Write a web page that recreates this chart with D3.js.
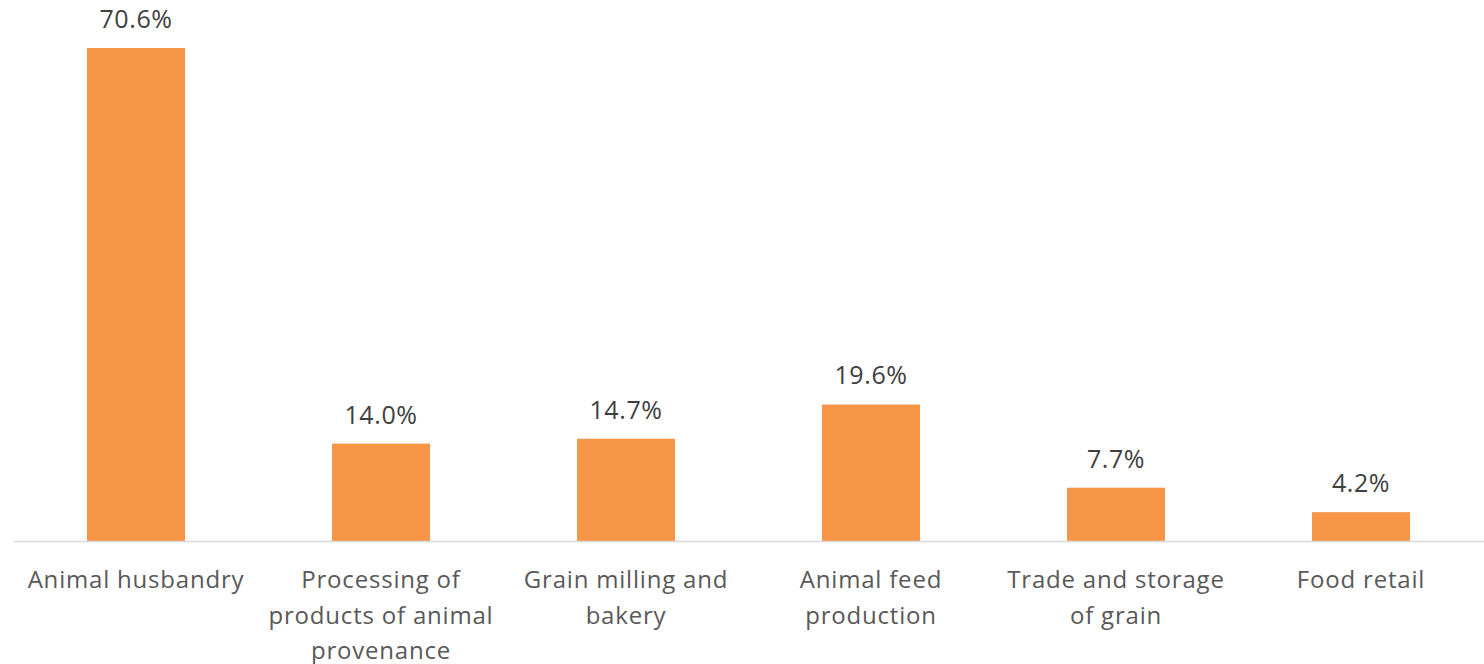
<!DOCTYPE html>
<html><head><meta charset="utf-8">
<script src="https://cdn.jsdelivr.net/npm/d3@7"></script>
<style>body{margin:0;background:#fff}svg{display:block}text{font-family:"Open Sans",sans-serif}</style>
</head><body><svg id="c" width="1484" height="664"></svg>
<script>
const categories = ["Animal husbandry","Processing of products of animal provenance","Grain milling and bakery","Animal feed production","Trade and storage of grain","Food retail"];
const categoryLines = [["Animal husbandry"],["Processing of","products of animal","provenance"],["Grain milling and","bakery"],["Animal feed","production"],["Trade and storage","of grain"],["Food retail"]];
const values = [70.6,14.0,14.7,19.6,7.7,4.2];
const valueLabels = ["70.6%","14.0%","14.7%","19.6%","7.7%","4.2%"];

const svg = d3.select("#c");
const x = d3.scaleBand().domain(categories).range([13.5,1483.5]).paddingInner(0.6).paddingOuter(0.3);
const y = d3.scaleLinear().domain([0,70.6]).range([541.5,48]);

svg.append("g").selectAll("rect").data(values).join("rect")
  .attr("x",(d,i)=>x(categories[i])).attr("width",x.bandwidth())
  .attr("y",d=>y(d)).attr("height",d=>y(0)-y(d)).attr("fill","#F79646");

svg.append("line").attr("x1",13.5).attr("x2",1484).attr("y1",541.5).attr("y2",541.5)
  .attr("stroke","#D9D9D9").attr("stroke-width",1.5);

svg.append("g").selectAll("text").data(values).join("text")
  .attr("x",(d,i)=>x(categories[i])+x.bandwidth()/2).attr("y",d=>y(d)-20)
  .attr("text-anchor","middle").attr("font-size",25).attr("letter-spacing",0.6).attr("fill","#404040")
  .text((d,i)=>valueLabels[i]);

const lab = svg.append("g").selectAll("text").data(categories).join("text")
  .attr("text-anchor","middle").attr("font-size",24).attr("letter-spacing",0.8).attr("fill","#595959")
  .attr("transform",d=>`translate(${x(d)+x.bandwidth()/2},588)`);
lab.each(function(d,i){
  d3.select(this).selectAll("tspan").data(categoryLines[i]).join("tspan")
    .attr("x",0).attr("y",(t,j)=>j*35.5).text(t=>t);
});
</script></body></html>
